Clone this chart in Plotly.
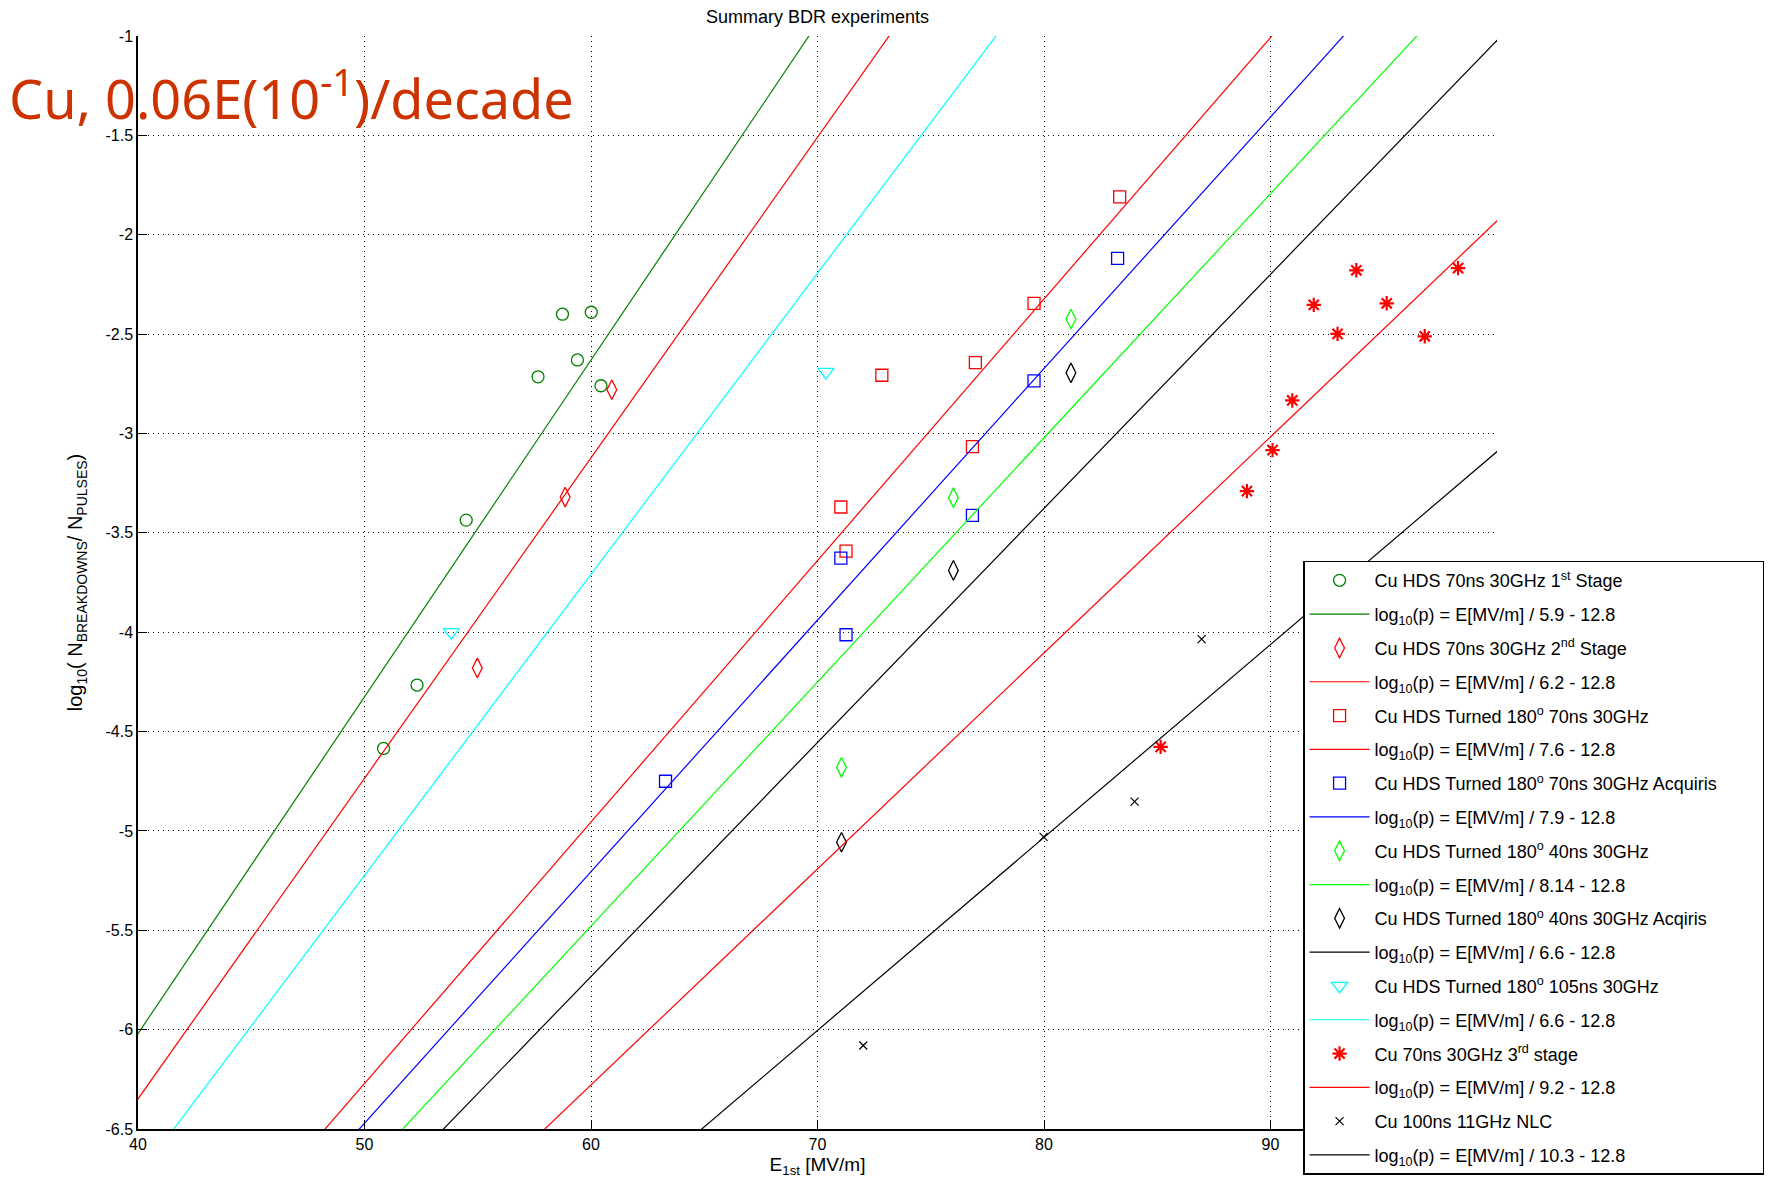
import plotly.graph_objects as go

# ---------------- data ----------------
series_names = [
    "Cu HDS 70ns 30GHz 1<sup>st</sup> Stage",
    "Cu HDS 70ns 30GHz 2<sup>nd</sup> Stage",
    "Cu HDS Turned 180<sup>o</sup> 70ns 30GHz",
    "Cu HDS Turned 180<sup>o</sup> 70ns 30GHz Acquiris",
    "Cu HDS Turned 180<sup>o</sup> 40ns 30GHz",
    "Cu HDS Turned 180<sup>o</sup> 40ns 30GHz Acqiris",
    "Cu HDS Turned 180<sup>o</sup> 105ns 30GHz",
    "Cu 70ns 30GHz 3<sup>rd</sup> stage",
    "Cu 100ns 11GHz NLC",
]
fit_labels = ["5.9", "6.2", "7.6", "7.9", "8.14", "6.6", "6.6", "9.2", "10.3"]

# fitted line parameters as drawn: log10(p) = E / slope_div - offset
fit_slope_div = [5.9, 6.2, 7.6, 7.9, 8.14, 8.49, 6.6, 9.2, 10.3]
fit_offset = [12.8, 12.8, 12.85, 12.8, 12.85, 12.8, 12.8, 12.8, 12.8]

E_stage1 = [58.74, 60.01, 59.40, 57.66, 60.44, 54.49, 52.32, 50.84]
p_stage1 = [-2.40, -2.39, -2.63, -2.715, -2.76, -3.436, -4.266, -4.585]

E_stage2 = [60.92, 58.86, 54.98]
p_stage2 = [-2.78, -3.32, -4.18]

E_turned70 = [83.34, 79.56, 76.97, 72.84, 76.84, 71.03, 71.26]
p_turned70 = [-1.81, -2.345, -2.644, -2.707, -3.066, -3.37, -3.592]

E_turned70_acq = [83.25, 79.56, 76.84, 71.03, 71.26, 63.29]
p_turned70_acq = [-2.119, -2.735, -3.412, -3.627, -4.013, -4.75]

E_turned40 = [81.19, 76.0, 71.06]
p_turned40 = [-2.424, -3.323, -4.68]

E_turned40_acq = [81.19, 76.0, 71.06]
p_turned40_acq = [-2.695, -3.689, -5.057]

E_turned105 = [53.83, 70.37]
p_turned105 = [-4.0, -2.69]

E_stage3 = [93.79, 91.91, 95.13, 92.96, 96.81, 98.28, 90.96, 90.09, 88.96, 85.15]
p_stage3 = [-2.179, -2.353, -2.345, -2.499, -2.511, -2.168, -2.834, -3.084, -3.29, -4.577]

E_nlc = [86.96, 84.0, 79.98, 72.02]
p_nlc = [-4.035, -4.853, -5.03, -6.08]

series_E = [E_stage1, E_stage2, E_turned70, E_turned70_acq, E_turned40,
            E_turned40_acq, E_turned105, E_stage3, E_nlc]
series_p = [p_stage1, p_stage2, p_turned70, p_turned70_acq, p_turned40,
            p_turned40_acq, p_turned105, p_stage3, p_nlc]

x_tickvals = [40, 50, 60, 70, 80, 90, 100]
x_ticktext = ["40", "50", "60", "70", "80", "90", "100"]
y_tickvals = [-1, -1.5, -2, -2.5, -3, -3.5, -4, -4.5, -5, -5.5, -6, -6.5]
y_ticktext = ["-1", "-1.5", "-2", "-2.5", "-3", "-3.5", "-4", "-4.5", "-5", "-5.5", "-6", "-6.5"]

# ---------------- styles ----------------
marker_colors = ["#008000", "#FF0000", "#FF0000", "#0000FF", "#00FF00",
                 "#000000", "#00FFFF", "#FF0000", "#000000"]
line_colors = ["#008000", "#FF0000", "#FF0000", "#0000FF", "#00FF00",
               "#000000", "#00FFFF", "#FF0000", "#000000"]
marker_symbols = ["circle-open", "diamond-tall-open", "square-open", "square-open",
                  "diamond-tall-open", "diamond-tall-open", "triangle-down-open",
                  "asterisk-open", "x-thin-open"]
marker_sizes = [12, 14, 12, 12, 14, 14, 14, 12, 8]
marker_lw = [1.3, 1.3, 1.3, 1.3, 1.3, 1.3, 1.3, 2.2, 1.2]

FONT = "Liberation Sans, Arial, Helvetica, sans-serif"
PAD = "\u00a0" * 8  # extra room at the right of the legend box

fig = go.Figure()
E_line = [38, 102]
for i in range(len(series_names)):
    nm = series_names[i] + (PAD if i == 3 else "")
    fig.add_trace(go.Scatter(
        x=series_E[i], y=series_p[i], mode="markers", name=nm,
        legendgroup=f"g{2*i}",
        marker=dict(symbol=marker_symbols[i], size=marker_sizes[i],
                    color=marker_colors[i],
                    line=dict(color=marker_colors[i], width=marker_lw[i])),
    ))
    yl = [e / fit_slope_div[i] - fit_offset[i] for e in E_line]
    fig.add_trace(go.Scatter(
        x=E_line, y=yl, mode="lines",
        name=f"log<sub>10</sub>(p) = E[MV/m] / {fit_labels[i]} - 12.8",
        legendgroup=f"g{2*i+1}",
        line=dict(color=line_colors[i], width=1.2),
    ))

axis_common = dict(
    showline=True, linecolor="black", linewidth=1.5, mirror=False,
    ticks="inside", ticklen=9, tickcolor="black", tickwidth=1,
    showgrid=True, gridcolor="#000000", gridwidth=1, griddash="1px,4px",
    zeroline=False, automargin=False,
    tickfont=dict(family=FONT, size=16, color="black"),
)

fig.update_xaxes(range=[40, 100], tickvals=x_tickvals, ticktext=x_ticktext,
                 title=dict(text="E<sub>1st</sub> [MV/m]", font=dict(family=FONT, size=19, color="black"),
                            standoff=6),
                 **axis_common)
fig.update_yaxes(range=[-6.5, -1], tickvals=y_tickvals, ticktext=y_ticktext,
                 title=dict(text="log<sub>10</sub>( N<sub>BREAKDOWNS</sub>/ N<sub>PULSES</sub>)",
                            font=dict(family=FONT, size=20, color="black"), standoff=17),
                 **axis_common)

fig.update_layout(
    width=1768, height=1183,
    margin=dict(l=138, r=271, t=36, b=54, autoexpand=False),
    paper_bgcolor="white", plot_bgcolor="white",
    title=dict(text="Summary BDR experiments", xref="paper", x=0.5, xanchor="center",
               y=0.986, yanchor="middle",
               font=dict(family=FONT, size=18, color="black")),
    showlegend=True,
    legend=dict(x=0.8573, y=0.520, xanchor="left", yanchor="top",
                bgcolor="white", bordercolor="black", borderwidth=1.5,
                font=dict(family=FONT, size=18, color="black"),
                tracegroupgap=7.4, itemwidth=60, traceorder="grouped"),
    annotations=[dict(
        text="Cu, 0.06E(10<sup>-1</sup>)/decade", xref="paper", yref="paper",
        x=-0.0964, y=0.9458, xanchor="left", yanchor="middle", showarrow=False,
        font=dict(family="Comic Sans MS, Noto Sans, sans-serif", size=54, color="#CC3300"),
    )],
)

fig.write_html("out.html", config={"displayModeBar": False},
               post_script="document.body.style.margin='0';document.body.style.overflow='hidden';")
